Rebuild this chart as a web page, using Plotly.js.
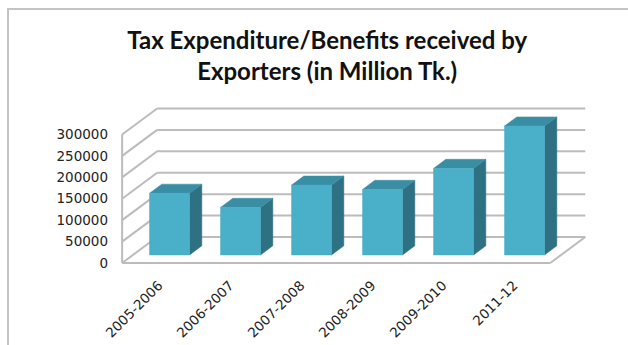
<!DOCTYPE html>
<html>
<head>
<meta charset="utf-8">
<script src="https://cdn.plot.ly/plotly-3.0.1.min.js"></script>
<style>
  html, body { margin: 0; padding: 0; background: #ffffff; }
  #frame { position: absolute; left: 7px; top: 8px; width: 700px; height: 400px; border: 2px solid #c4c4c4; box-sizing: border-box; }
  #chart { position: absolute; left: 0; top: 0; width: 628px; height: 345px; }
</style>
</head>
<body>
<div id="frame"></div>
<div id="chart"></div>
<script>
// ---- data ----
const categories = ['2005-2006', '2006-2007', '2007-2008', '2008-2009', '2009-2010', '2011-12'];
const values = [144000, 111000, 163000, 153000, 202000, 301000];
const yTicks = [0, 50000, 100000, 150000, 200000, 250000, 300000];
const yTickText = ['0', '50000', '100000', '150000', '200000', '250000', '300000'];

// ---- 3D projection style constants (oblique view) ----
const DX = 0.493;      // full depth, x offset in category units
const DY = 60700;      // full depth, y offset in value units
const EDGE = 0.515;    // wall overhang beyond first/last category
const HW = 0.282;      // half width of a bar
const F1 = 0.31;       // depth of bar front face
const F2 = 0.66;       // depth of bar back face

function P(x, v, d) { return [x + d * DX, v + d * DY]; }
function poly(pts) {
  const xs = [], ys = [];
  pts.forEach(p => { xs.push(p[0]); ys.push(p[1]); });
  xs.push(pts[0][0]); ys.push(pts[0][1]);
  return [xs, ys];
}

const n = categories.length;
const xL = -EDGE, xR = (n - 1) + EDGE;
const yMax = yTicks[yTicks.length - 1];

// walls / floor / grid
const wx = [], wy = [];
function seg(a, b) { wx.push(a[0], b[0], null); wy.push(a[1], b[1], null); }
yTicks.forEach(v => {
  seg(P(xL, v, 1), P(xR, v, 1));   // back wall gridline
  seg(P(xL, v, 0), P(xL, v, 1));   // left wall diagonal
});
seg(P(xL, 0, 0), P(xL, yMax, 0));  // left wall front edge
seg(P(xL, 0, 0), P(xR, 0, 0));     // floor front edge
seg(P(xR, 0, 0), P(xR, 0, 1));     // floor right edge

const fx = [], fy = [], sx = [], sy = [], tx = [], ty = [];
function addPoly(X, Y, pts) {
  const [a, b] = poly(pts);
  X.push(...a, null); Y.push(...b, null);
}
values.forEach((v, i) => {
  addPoly(fx, fy, [P(i - HW, 0, F1), P(i + HW, 0, F1), P(i + HW, v, F1), P(i - HW, v, F1)]);
  addPoly(sx, sy, [P(i + HW, 0, F1), P(i + HW, 0, F2), P(i + HW, v, F2), P(i + HW, v, F1)]);
  addPoly(tx, ty, [P(i - HW, v, F1), P(i + HW, v, F1), P(i + HW, v, F2), P(i - HW, v, F2)]);
});

const traces = [
  { type: 'scatter', mode: 'lines', x: wx, y: wy, line: { color: '#bcbcbc', width: 2 }, hoverinfo: 'skip' },
  { type: 'scatter', mode: 'lines', x: sx, y: sy, fill: 'toself', fillcolor: '#2d7183', line: { color: '#2d7183', width: 0.5 }, hoverinfo: 'skip' },
  { type: 'scatter', mode: 'lines', x: tx, y: ty, fill: 'toself', fillcolor: '#3a8ea4', line: { color: '#3a8ea4', width: 0.5 }, hoverinfo: 'skip' },
  { type: 'scatter', mode: 'lines', x: fx, y: fy, fill: 'toself', fillcolor: '#4aafc9', line: { color: '#4aafc9', width: 0.5 }, hoverinfo: 'skip' }
];

const layout = {
  width: 628, height: 345,
  margin: { l: 109, r: 22, t: 103, b: 76 },
  paper_bgcolor: 'rgba(0,0,0,0)',
  plot_bgcolor: 'rgba(0,0,0,0)',
  showlegend: false,
  title: {
    text: 'Tax Expenditure/Benefits received by<br>Exporters (in Million Tk.)',
    font: { family: 'Lato', size: 24, weight: 700, color: '#111111' },
    x: 0.521, xanchor: 'center',
    y: 0.858, yanchor: 'top', yref: 'container'
  },
  xaxis: {
    range: [-0.7, 6.3],
    tickvals: categories.map((c, i) => i),
    ticktext: categories,
    tickangle: -45,
    ticklabelstandoff: 5,
    showgrid: false, zeroline: false, showline: false, ticks: '',
    tickfont: { family: 'DejaVu Sans', size: 13.5, color: '#222222' },
    fixedrange: true
  },
  yaxis: {
    range: [-14000, 373500],
    tickvals: yTicks,
    ticktext: yTickText,
    showgrid: false, zeroline: false, showline: false, ticks: '',
    tickfont: { family: 'DejaVu Sans', size: 13.5, color: '#222222' },
    fixedrange: true
  }
};

Plotly.newPlot('chart', traces, layout, { displayModeBar: false, staticPlot: true });
</script>
</body>
</html>
